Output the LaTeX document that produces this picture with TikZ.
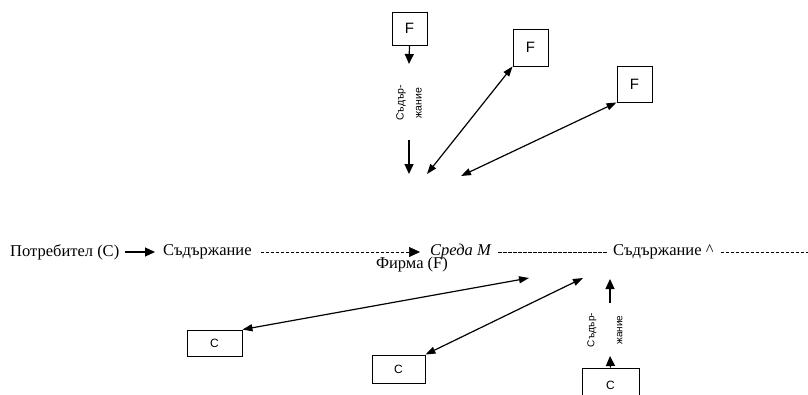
\documentclass[tikz,border=0pt]{standalone}
\usepackage{fontspec}
\setmainfont{Liberation Serif}
\newfontfamily\sansf{Liberation Sans}
\usetikzlibrary{arrows.meta}
\begin{document}
\begin{tikzpicture}[x=1pt,y=-1pt,
  lbl/.style={inner sep=0pt, font=\fontsize{16.5}{18}\selectfont, anchor=west},
  fbox/.style={draw, line width=0.9pt, inner sep=0pt, font=\sansf\fontsize{15}{16}\selectfont},
  cbox/.style={draw, line width=0.9pt, inner sep=0pt, font=\sansf\fontsize{12}{13}\selectfont},
  tri/.style={-{Triangle[length=10pt,width=9pt]}, line width=1.2pt},
  dtri/.style={{Triangle[length=10pt,width=7pt]}-{Triangle[length=10pt,width=7pt]}, line width=1.2pt},
  hyph/.style={line width=0.6pt, dash pattern=on 3.5pt off 1.5pt},
  vtxt/.style={rotate=90, align=center, inner sep=0pt}
]
\useasboundingbox (0,0) rectangle (808,394);
\clip (0,0) rectangle (808,394);

% main line
\node[lbl] (potr) at (10,252) {Потребител (С)};
\node[lbl] (sod1) at (163,252) {Съдържание};
\node[lbl, font=\fontsize{16.5}{18}\selectfont\itshape] (sreda) at (430,252) {Среда М};
\node[lbl] (sod2) at (613,252) {Съдържание \textasciicircum};
\node[lbl, anchor=center] (firma) at (412,265) {Фирма (F)};
\coordinate (rend) at (808,252);

\draw[tri, shorten <=6pt, shorten >=8pt] (potr.east) -- (sod1.west);
\draw[hyph, -{Triangle[length=11pt,width=10pt]}, shorten <=9pt, shorten >=10pt] (sod1.east) -- (sreda.west);
\draw[hyph, shorten <=7pt, shorten >=6pt] (sreda.east) -- (sod2.west);
\draw[hyph, shorten <=7pt] (sod2.east) -- (rend);

% top boxes
\node[fbox, minimum width=35pt, minimum height=33pt] (F1) at (409.5,28.5) {F};
\node[fbox, minimum width=35pt, minimum height=37pt] (F2) at (530.5,47.5) {F};
\node[fbox, minimum width=35pt, minimum height=36pt] (F3) at (634.5,84) {F};

\coordinate (t1) at (409,64);
\coordinate (a2s) at (409,140);
\coordinate (a2e) at (409,174);
\coordinate (p2) at (427,174);
\coordinate (p3) at (461,176);

\draw[tri] (F1.south) -- (t1);
\node[vtxt, font=\sansf\fontsize{10.5}{18}\selectfont] (txt1) at (409,103) {Съдър-\\жание};
\draw[tri] (a2s) -- (a2e);
\draw[dtri] (F2.south west) -- (p2);
\draw[dtri] (F3.south west) -- (p3);

% bottom boxes
\node[cbox, minimum width=55pt, minimum height=26pt] (C1) at (214.5,343) {C};
\node[cbox, minimum width=53pt, minimum height=28pt] (C2) at (398.5,369) {C};
\node[cbox, minimum width=57pt, minimum height=34pt] (C3) at (610.5,385) {C};

\coordinate (q1) at (529,278);
\coordinate (q2) at (583,278);
\coordinate (u1s) at (610,303);
\coordinate (u1e) at (610,279);
\coordinate (u2e) at (610,356);

\draw[dtri] (q1) -- (C1.north east);
\draw[dtri] (q2) -- (C2.north east);
\draw[tri] (u1s) -- (u1e);
\node[vtxt, font=\sansf\fontsize{10}{28}\selectfont] (txt2) at (605,330) {Съдър-\\жание};
\draw[tri] (C3.north) -- (u2e);

% thicker right edges of boxes
\foreach \b in {F1,F2,F3,C1,C2,C3}
  \draw[line width=1.8pt] (\b.north east) -- (\b.south east);
\end{tikzpicture}
\end{document}
